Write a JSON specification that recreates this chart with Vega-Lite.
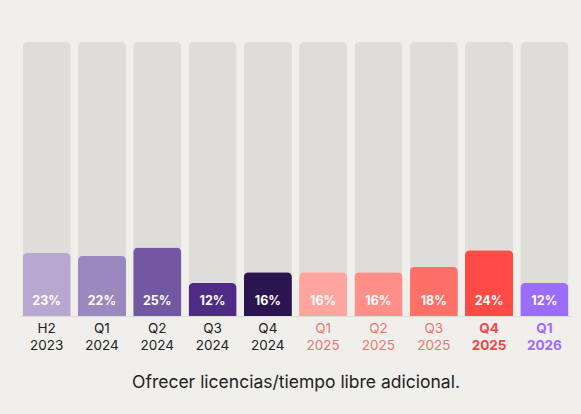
{
  "$schema": "https://vega.github.io/schema/vega-lite/v6.json",
  "width": 553,
  "height": 274,
  "autosize": "none",
  "padding": {"left": 19, "top": 42, "right": 9, "bottom": 98},
  "background": "#F0EFEC",
  "config": {"view": {"stroke": null}, "font": "Inter"},
  "data": {
    "values": [
      {"period": "H2 2023", "value": 23, "full": 100, "label": "23%", "color": "#B8A8D0"},
      {"period": "Q1 2024", "value": 22, "full": 100, "label": "22%", "color": "#9A88BE"},
      {"period": "Q2 2024", "value": 25, "full": 100, "label": "25%", "color": "#7158A0"},
      {"period": "Q3 2024", "value": 12, "full": 100, "label": "12%", "color": "#4E2C86"},
      {"period": "Q4 2024", "value": 16, "full": 100, "label": "16%", "color": "#2B1550"},
      {"period": "Q1 2025", "value": 16, "full": 100, "label": "16%", "color": "#FFA5A0"},
      {"period": "Q2 2025", "value": 16, "full": 100, "label": "16%", "color": "#FF8F88"},
      {"period": "Q3 2025", "value": 18, "full": 100, "label": "18%", "color": "#FF7068"},
      {"period": "Q4 2025", "value": 24, "full": 100, "label": "24%", "color": "#FF4B45"},
      {"period": "Q1 2026", "value": 12, "full": 100, "label": "12%", "color": "#9C6CFA"}
    ]
  },
  "encoding": {
    "x": {
      "field": "period",
      "type": "nominal",
      "sort": null,
      "scale": {"paddingInner": 0.13, "paddingOuter": 0.065},
      "axis": {
        "labelAngle": 0,
        "labelExpr": "split(datum.label, ' ')",
        "labelFontSize": 13.5,
        "labelLineHeight": 17,
        "labelPadding": 5,
        "labelBaseline": "top",
        "labelColor": {
          "condition": [
            {"test": "datum.value == 'Q4 2025'", "value": "#F04848"},
            {"test": "datum.value == 'Q1 2026'", "value": "#9C6CFA"},
            {"test": "indexof(datum.value, '2025') >= 0", "value": "#F07470"}
          ],
          "value": "#222222"
        },
        "labelFontWeight": {
          "condition": {"test": "datum.value == 'Q4 2025' || datum.value == 'Q1 2026'", "value": "bold"},
          "value": "normal"
        },
        "ticks": false,
        "domainColor": "#DCDAD5",
        "title": "Ofrecer licencias/tiempo libre adicional.",
        "titleFontSize": 17.5,
        "titleFontWeight": "normal",
        "titleColor": "#222222",
        "titlePadding": 22
      }
    }
  },
  "layer": [
    {
      "mark": {"type": "bar", "color": "#DFDDD8", "cornerRadiusTopLeft": 5, "cornerRadiusTopRight": 5},
      "encoding": {
        "y": {"field": "full", "type": "quantitative", "scale": {"domain": [0, 100]}, "axis": null}
      }
    },
    {
      "mark": {"type": "bar", "cornerRadiusTopLeft": 5, "cornerRadiusTopRight": 5},
      "encoding": {
        "y": {"field": "value", "type": "quantitative"},
        "color": {"field": "color", "type": "nominal", "scale": null}
      }
    },
    {
      "mark": {"type": "text", "color": "white", "fontWeight": "bold", "fontSize": 12.5, "baseline": "middle", "dy": -15},
      "encoding": {
        "y": {"datum": 0, "type": "quantitative"},
        "text": {"field": "label"}
      }
    }
  ]
}
